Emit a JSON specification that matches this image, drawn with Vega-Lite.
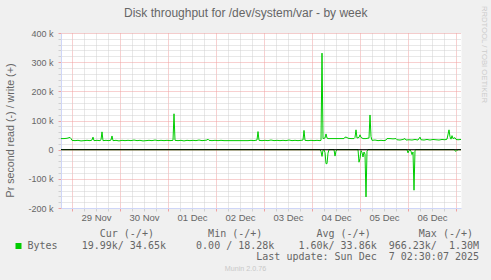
{
  "$schema": "https://vega.github.io/schema/vega-lite/v6.json",
  "width": 400,
  "height": 175,
  "autosize": {"type": "none"},
  "padding": {"left": 61, "top": 33, "right": 30, "bottom": 72},
  "background": "#f0f0f0",
  "config": {"font": "Liberation Sans", "view": {"fill": "#ffffff", "stroke": "transparent"}},
  "title": {"text": "Disk throughput for /dev/system/var - by week", "font": "Liberation Sans", "fontSize": 12, "fontWeight": "normal", "color": "#666666", "anchor": "middle", "frame": "bounds", "baseline": "alphabetic", "offset": 0, "dy": 24},
  "datasets": {
    "wr": [
      {"t": "2025-11-28T18:30Z", "v": 38000}, {"t": "2025-11-28T20:00Z", "v": 38000}, {"t": "2025-11-28T21:30Z", "v": 39000},
      {"t": "2025-11-28T23:00Z", "v": 42000}, {"t": "2025-11-28T23:30Z", "v": 38000}, {"t": "2025-11-29T00:00Z", "v": 32000},
      {"t": "2025-11-29T01:30Z", "v": 31000}, {"t": "2025-11-29T03:00Z", "v": 32000}, {"t": "2025-11-29T04:30Z", "v": 30000},
      {"t": "2025-11-29T06:00Z", "v": 31000}, {"t": "2025-11-29T07:30Z", "v": 32000}, {"t": "2025-11-29T09:00Z", "v": 31000},
      {"t": "2025-11-29T10:00Z", "v": 33000}, {"t": "2025-11-29T10:30Z", "v": 43000}, {"t": "2025-11-29T11:00Z", "v": 31000},
      {"t": "2025-11-29T12:30Z", "v": 32000}, {"t": "2025-11-29T14:00Z", "v": 31000}, {"t": "2025-11-29T14:30Z", "v": 34000},
      {"t": "2025-11-29T15:00Z", "v": 61000}, {"t": "2025-11-29T15:30Z", "v": 31000}, {"t": "2025-11-29T17:00Z", "v": 32000},
      {"t": "2025-11-29T18:30Z", "v": 31000}, {"t": "2025-11-29T19:30Z", "v": 33000}, {"t": "2025-11-29T20:00Z", "v": 47000},
      {"t": "2025-11-29T20:30Z", "v": 31000}, {"t": "2025-11-29T22:00Z", "v": 32000}, {"t": "2025-11-29T23:30Z", "v": 30000},
      {"t": "2025-11-30T01:00Z", "v": 32000}, {"t": "2025-11-30T02:30Z", "v": 31000}, {"t": "2025-11-30T04:00Z", "v": 32000},
      {"t": "2025-11-30T05:30Z", "v": 31000}, {"t": "2025-11-30T07:00Z", "v": 33000}, {"t": "2025-11-30T08:30Z", "v": 31000},
      {"t": "2025-11-30T10:00Z", "v": 32000}, {"t": "2025-11-30T11:30Z", "v": 30000}, {"t": "2025-11-30T13:00Z", "v": 31000},
      {"t": "2025-11-30T14:30Z", "v": 32000}, {"t": "2025-11-30T16:00Z", "v": 31000}, {"t": "2025-11-30T17:30Z", "v": 33000},
      {"t": "2025-11-30T19:00Z", "v": 31000}, {"t": "2025-11-30T20:30Z", "v": 32000}, {"t": "2025-11-30T22:00Z", "v": 31000},
      {"t": "2025-11-30T23:30Z", "v": 32000}, {"t": "2025-12-01T01:00Z", "v": 31000}, {"t": "2025-12-01T02:30Z", "v": 32000},
      {"t": "2025-12-01T03:00Z", "v": 123000}, {"t": "2025-12-01T03:30Z", "v": 32000}, {"t": "2025-12-01T05:00Z", "v": 31000},
      {"t": "2025-12-01T06:30Z", "v": 32000}, {"t": "2025-12-01T08:00Z", "v": 30000}, {"t": "2025-12-01T09:30Z", "v": 32000},
      {"t": "2025-12-01T11:00Z", "v": 31000}, {"t": "2025-12-01T12:30Z", "v": 32000}, {"t": "2025-12-01T14:00Z", "v": 31000},
      {"t": "2025-12-01T15:30Z", "v": 33000}, {"t": "2025-12-01T17:00Z", "v": 31000}, {"t": "2025-12-01T18:30Z", "v": 32000},
      {"t": "2025-12-01T19:30Z", "v": 33000}, {"t": "2025-12-01T20:00Z", "v": 36000}, {"t": "2025-12-01T20:30Z", "v": 32000},
      {"t": "2025-12-01T22:00Z", "v": 31000}, {"t": "2025-12-01T23:30Z", "v": 32000}, {"t": "2025-12-02T01:00Z", "v": 31000},
      {"t": "2025-12-02T02:30Z", "v": 32000}, {"t": "2025-12-02T04:00Z", "v": 31000}, {"t": "2025-12-02T07:00Z", "v": 31000},
      {"t": "2025-12-02T10:00Z", "v": 31000}, {"t": "2025-12-02T13:00Z", "v": 31000}, {"t": "2025-12-02T16:00Z", "v": 31000},
      {"t": "2025-12-02T17:30Z", "v": 32000}, {"t": "2025-12-02T19:00Z", "v": 31000}, {"t": "2025-12-02T20:30Z", "v": 33000},
      {"t": "2025-12-02T21:00Z", "v": 62000}, {"t": "2025-12-02T21:30Z", "v": 32000}, {"t": "2025-12-02T23:00Z", "v": 31000},
      {"t": "2025-12-03T00:30Z", "v": 32000}, {"t": "2025-12-03T02:00Z", "v": 31000}, {"t": "2025-12-03T03:30Z", "v": 33000},
      {"t": "2025-12-03T05:00Z", "v": 31000}, {"t": "2025-12-03T06:30Z", "v": 32000}, {"t": "2025-12-03T08:00Z", "v": 31000},
      {"t": "2025-12-03T09:30Z", "v": 32000}, {"t": "2025-12-03T11:00Z", "v": 31000}, {"t": "2025-12-03T12:30Z", "v": 33000},
      {"t": "2025-12-03T14:00Z", "v": 31000}, {"t": "2025-12-03T15:30Z", "v": 32000}, {"t": "2025-12-03T17:00Z", "v": 31000},
      {"t": "2025-12-03T18:30Z", "v": 32000}, {"t": "2025-12-03T19:30Z", "v": 33000}, {"t": "2025-12-03T20:00Z", "v": 66000},
      {"t": "2025-12-03T20:30Z", "v": 32000}, {"t": "2025-12-03T22:00Z", "v": 31000}, {"t": "2025-12-03T23:30Z", "v": 32000},
      {"t": "2025-12-04T01:00Z", "v": 31000}, {"t": "2025-12-04T02:30Z", "v": 32000}, {"t": "2025-12-04T04:00Z", "v": 31000},
      {"t": "2025-12-04T04:30Z", "v": 32000}, {"t": "2025-12-04T05:00Z", "v": 331000}, {"t": "2025-12-04T05:30Z", "v": 38000},
      {"t": "2025-12-04T06:30Z", "v": 40000}, {"t": "2025-12-04T07:00Z", "v": 54000}, {"t": "2025-12-04T07:30Z", "v": 40000},
      {"t": "2025-12-04T08:00Z", "v": 38000}, {"t": "2025-12-04T10:00Z", "v": 38000}, {"t": "2025-12-04T12:00Z", "v": 38000},
      {"t": "2025-12-04T14:00Z", "v": 38000}, {"t": "2025-12-04T16:00Z", "v": 38000}, {"t": "2025-12-04T16:30Z", "v": 43000},
      {"t": "2025-12-04T17:30Z", "v": 42000}, {"t": "2025-12-04T18:00Z", "v": 39000}, {"t": "2025-12-04T19:30Z", "v": 38000},
      {"t": "2025-12-04T21:00Z", "v": 38000}, {"t": "2025-12-04T21:30Z", "v": 42000}, {"t": "2025-12-04T22:00Z", "v": 68000},
      {"t": "2025-12-04T22:30Z", "v": 40000}, {"t": "2025-12-04T23:30Z", "v": 42000}, {"t": "2025-12-05T00:00Z", "v": 51000},
      {"t": "2025-12-05T00:30Z", "v": 42000}, {"t": "2025-12-05T01:30Z", "v": 38000}, {"t": "2025-12-05T03:00Z", "v": 38000},
      {"t": "2025-12-05T04:30Z", "v": 40000}, {"t": "2025-12-05T05:00Z", "v": 119000}, {"t": "2025-12-05T05:30Z", "v": 45000},
      {"t": "2025-12-05T06:00Z", "v": 32000}, {"t": "2025-12-05T07:30Z", "v": 33000}, {"t": "2025-12-05T09:00Z", "v": 31000},
      {"t": "2025-12-05T10:30Z", "v": 32000}, {"t": "2025-12-05T12:00Z", "v": 31000}, {"t": "2025-12-05T13:00Z", "v": 33000},
      {"t": "2025-12-05T13:30Z", "v": 38000}, {"t": "2025-12-05T15:00Z", "v": 38000}, {"t": "2025-12-05T16:30Z", "v": 37000},
      {"t": "2025-12-05T18:00Z", "v": 38000}, {"t": "2025-12-05T18:30Z", "v": 34000}, {"t": "2025-12-05T20:00Z", "v": 33000},
      {"t": "2025-12-05T21:30Z", "v": 35000}, {"t": "2025-12-05T22:30Z", "v": 38000}, {"t": "2025-12-05T23:00Z", "v": 33000},
      {"t": "2025-12-06T00:30Z", "v": 34000}, {"t": "2025-12-06T02:00Z", "v": 33000}, {"t": "2025-12-06T03:30Z", "v": 35000},
      {"t": "2025-12-06T05:00Z", "v": 33000}, {"t": "2025-12-06T06:00Z", "v": 43000}, {"t": "2025-12-06T06:30Z", "v": 34000},
      {"t": "2025-12-06T08:00Z", "v": 33000}, {"t": "2025-12-06T09:30Z", "v": 35000}, {"t": "2025-12-06T11:00Z", "v": 33000},
      {"t": "2025-12-06T12:30Z", "v": 35000}, {"t": "2025-12-06T14:00Z", "v": 34000}, {"t": "2025-12-06T15:30Z", "v": 33000},
      {"t": "2025-12-06T17:00Z", "v": 35000}, {"t": "2025-12-06T18:30Z", "v": 34000}, {"t": "2025-12-06T19:30Z", "v": 36000},
      {"t": "2025-12-06T20:30Z", "v": 68000}, {"t": "2025-12-06T21:00Z", "v": 44000}, {"t": "2025-12-06T21:30Z", "v": 36000},
      {"t": "2025-12-06T22:00Z", "v": 48000}, {"t": "2025-12-06T22:30Z", "v": 38000}, {"t": "2025-12-06T23:30Z", "v": 41000},
      {"t": "2025-12-07T00:00Z", "v": 35000}, {"t": "2025-12-07T01:00Z", "v": 34000}, {"t": "2025-12-07T02:30Z", "v": 35000}
    ],
    "rd": [
      {"t": "2025-11-28T18:30Z", "v": 0}, {"t": "2025-12-04T04:00Z", "v": 0}, {"t": "2025-12-04T04:30Z", "v": -6000},
      {"t": "2025-12-04T05:00Z", "v": -23000}, {"t": "2025-12-04T05:30Z", "v": -2000}, {"t": "2025-12-04T06:00Z", "v": 0},
      {"t": "2025-12-04T06:30Z", "v": -10000}, {"t": "2025-12-04T07:00Z", "v": -48000}, {"t": "2025-12-04T07:30Z", "v": -48000},
      {"t": "2025-12-04T08:00Z", "v": -12000}, {"t": "2025-12-04T08:30Z", "v": 0}, {"t": "2025-12-04T11:00Z", "v": 0},
      {"t": "2025-12-04T11:30Z", "v": -22000}, {"t": "2025-12-04T12:00Z", "v": -5000}, {"t": "2025-12-04T12:30Z", "v": 0},
      {"t": "2025-12-04T23:00Z", "v": 0}, {"t": "2025-12-04T23:30Z", "v": -43000}, {"t": "2025-12-05T00:00Z", "v": -30000},
      {"t": "2025-12-05T00:30Z", "v": -3000}, {"t": "2025-12-05T01:00Z", "v": -10000}, {"t": "2025-12-05T01:30Z", "v": -25000},
      {"t": "2025-12-05T02:00Z", "v": -8000}, {"t": "2025-12-05T02:30Z", "v": -15000}, {"t": "2025-12-05T03:00Z", "v": -162000},
      {"t": "2025-12-05T03:30Z", "v": -5000}, {"t": "2025-12-05T04:00Z", "v": 0}, {"t": "2025-12-05T23:30Z", "v": 0},
      {"t": "2025-12-06T00:00Z", "v": -11000}, {"t": "2025-12-06T00:30Z", "v": -3000}, {"t": "2025-12-06T01:00Z", "v": 0},
      {"t": "2025-12-06T01:30Z", "v": -6000}, {"t": "2025-12-06T02:00Z", "v": -17000}, {"t": "2025-12-06T02:30Z", "v": -8000},
      {"t": "2025-12-06T03:00Z", "v": -139000}, {"t": "2025-12-06T03:30Z", "v": -2000}, {"t": "2025-12-06T04:00Z", "v": 0},
      {"t": "2025-12-06T23:00Z", "v": 0}, {"t": "2025-12-06T23:30Z", "v": -3000}, {"t": "2025-12-07T00:00Z", "v": -6000},
      {"t": "2025-12-07T00:30Z", "v": -2000}, {"t": "2025-12-07T01:00Z", "v": 0}, {"t": "2025-12-07T02:30Z", "v": 0}
    ],
    "zero": [{"v": 0}]
  },
  "resolve": {"axis": {"x": "independent", "y": "independent"}},
  "layer": [
    {
      "data": {"name": "wr"},
      "mark": {"type": "line", "strokeWidth": 1},
      "encoding": {
        "x": {
          "field": "t", "type": "temporal",
          "scale": {"type": "utc", "domain": [{"year": 2025, "month": 11, "date": 28, "hours": 18, "minutes": 30, "utc": true}, {"year": 2025, "month": 12, "date": 7, "hours": 2, "minutes": 30, "utc": true}]},
          "axis": {
            "orient": "bottom",
            "tickCount": 33,
            "format": "%d %b",
            "labelExpr": "datum.value % 86400000 === 43200000 ? datum.label : ''",
            "labelOverlap": false, "labelFlush": false,
            "labelFontSize": 9.5, "labelColor": "#666666", "labelPadding": 1,
            "grid": true,
            "gridColor": {"condition": {"test": "datum.value % 86400000 === 0", "value": "#f0a0a0"}, "value": "#d0d0d0"},
            "gridDash": [1, 1],
            "ticks": true, "tickSize": 3,
            "tickColor": {"condition": {"test": "datum.value % 86400000 === 0", "value": "#f0a0a0"}, "value": "#d0d0d0"},
            "domain": true, "domainColor": "#cfd6f8",
            "title": [
              "\u200b\u00a0\u00a0\u00a0\u00a0\u00a0\u00a0\u00a0\u00a0\u00a0\u00a0\u00a0\u00a0Cur\u00a0(-/+)\u00a0\u00a0\u00a0\u00a0\u00a0\u00a0\u00a0\u00a0\u00a0Min\u00a0(-/+)\u00a0\u00a0\u00a0\u00a0\u00a0\u00a0\u00a0\u00a0\u00a0Avg\u00a0(-/+)\u00a0\u00a0\u00a0\u00a0\u00a0\u00a0\u00a0\u00a0Max\u00a0(-/+)",
              "Bytes\u00a0\u00a0\u00a0\u00a019.99k/\u00a034.65k\u00a0\u00a0\u00a0\u00a0\u00a00.00\u00a0/\u00a018.28k\u00a0\u00a0\u00a0\u00a01.60k/\u00a033.86k\u00a0\u00a0966.23k/\u00a0\u00a01.30M",
              "\u200b\u00a0\u00a0\u00a0\u00a0\u00a0\u00a0\u00a0\u00a0\u00a0\u00a0\u00a0\u00a0\u00a0\u00a0\u00a0\u00a0\u00a0\u00a0\u00a0\u00a0\u00a0\u00a0\u00a0\u00a0\u00a0\u00a0\u00a0\u00a0\u00a0\u00a0\u00a0\u00a0\u00a0\u00a0\u00a0\u00a0\u00a0\u00a0Last\u00a0update:\u00a0Sun\u00a0Dec\u00a0\u00a07\u00a002:30:07\u00a02025"
            ],
            "titleFont": "DejaVu Sans Mono", "titleFontSize": 10, "titleFontWeight": "normal", "titleColor": "#666666",
            "titleAlign": "left", "titleAnchor": "start", "titleBaseline": "alphabetic",
            "titleX": -34, "titleY": 28.5, "titleLineHeight": 11.5, "titleLimit": 2000
          }
        },
        "y": {
          "field": "v", "type": "quantitative",
          "scale": {"domain": [-200000, 400000], "nice": false, "zero": false},
          "axis": {
            "orient": "left",
            "values": [-200000, -180000, -160000, -140000, -120000, -100000, -80000, -60000, -40000, -20000, 0, 20000, 40000, 60000, 80000, 100000, 120000, 140000, 160000, 180000, 200000, 220000, 240000, 260000, 280000, 300000, 320000, 340000, 360000, 380000, 400000],
            "labelExpr": "datum.value === 0 ? '0' : (datum.value % 100000 === 0 ? (datum.value / 1000) + ' k' : '')",
            "labelOverlap": false,
            "labelFontSize": 9, "labelColor": "#666666", "labelPadding": 5, "labelBaseline": "middle",
            "grid": true,
            "gridColor": {"condition": {"test": "datum.value % 100000 === 0", "value": "#f0a0a0"}, "value": "#d0d0d0"},
            "gridDash": [1, 1],
            "ticks": true, "tickSize": 3,
            "tickColor": {"condition": {"test": "datum.value % 100000 === 0", "value": "#f0a0a0"}, "value": "#d0d0d0"},
            "domain": true, "domainColor": "#cfd6f8",
            "title": "Pr second read (-) / write (+)",
            "titleFontSize": 10.7, "titleFontWeight": "normal", "titleColor": "#666666",
            "titleAngle": 270, "titleAlign": "center", "titleBaseline": "middle",
            "titleX": -51, "titleY": 97
          }
        },
        "color": {
          "datum": "Bytes",
          "scale": {"domain": ["Bytes"], "range": ["#00cc00"]},
          "legend": {
            "orient": "none", "legendX": -47.5, "legendY": 208,
            "title": null, "labelExpr": "''", "padding": 0,
            "symbolType": "square", "symbolSize": 36, "symbolFillColor": "#00cc00", "symbolStrokeColor": "#00cc00", "symbolStrokeWidth": 0
          }
        }
      }
    },
    {
      "data": {"name": "rd"},
      "mark": {"type": "line", "strokeWidth": 1},
      "encoding": {
        "x": {
          "field": "t", "type": "temporal", "scale": {"type": "utc"},
          "axis": {
            "orient": "bottom", "domain": false, "grid": false, "ticks": false, "labels": false,
            "title": "Munin 2.0.76", "titleFont": "Liberation Sans", "titleFontSize": 7.2, "titleFontWeight": "normal",
            "titleColor": "#c8c8c8", "titleAlign": "center", "titleBaseline": "alphabetic", "titleX": 184, "titleY": 62.5
          }
        },
        "y": {
          "field": "v", "type": "quantitative",
          "axis": {
            "orient": "right", "domain": false, "grid": false, "ticks": false, "labels": false,
            "title": "RRDTOOL / TOBI OETIKER", "titleFontSize": 7.7, "titleFontWeight": "normal", "titleColor": "#cccccc",
            "titleAngle": 90, "titleAlign": "center", "titleBaseline": "middle", "titleX": 22.5, "titleY": 21
          }
        },
        "color": {"datum": "Bytes"}
      }
    },
    {
      "data": {"name": "zero"},
      "mark": {"type": "rule", "color": "#000000", "strokeWidth": 1},
      "encoding": {"y": {"field": "v", "type": "quantitative", "axis": null}}
    }
  ]
}
